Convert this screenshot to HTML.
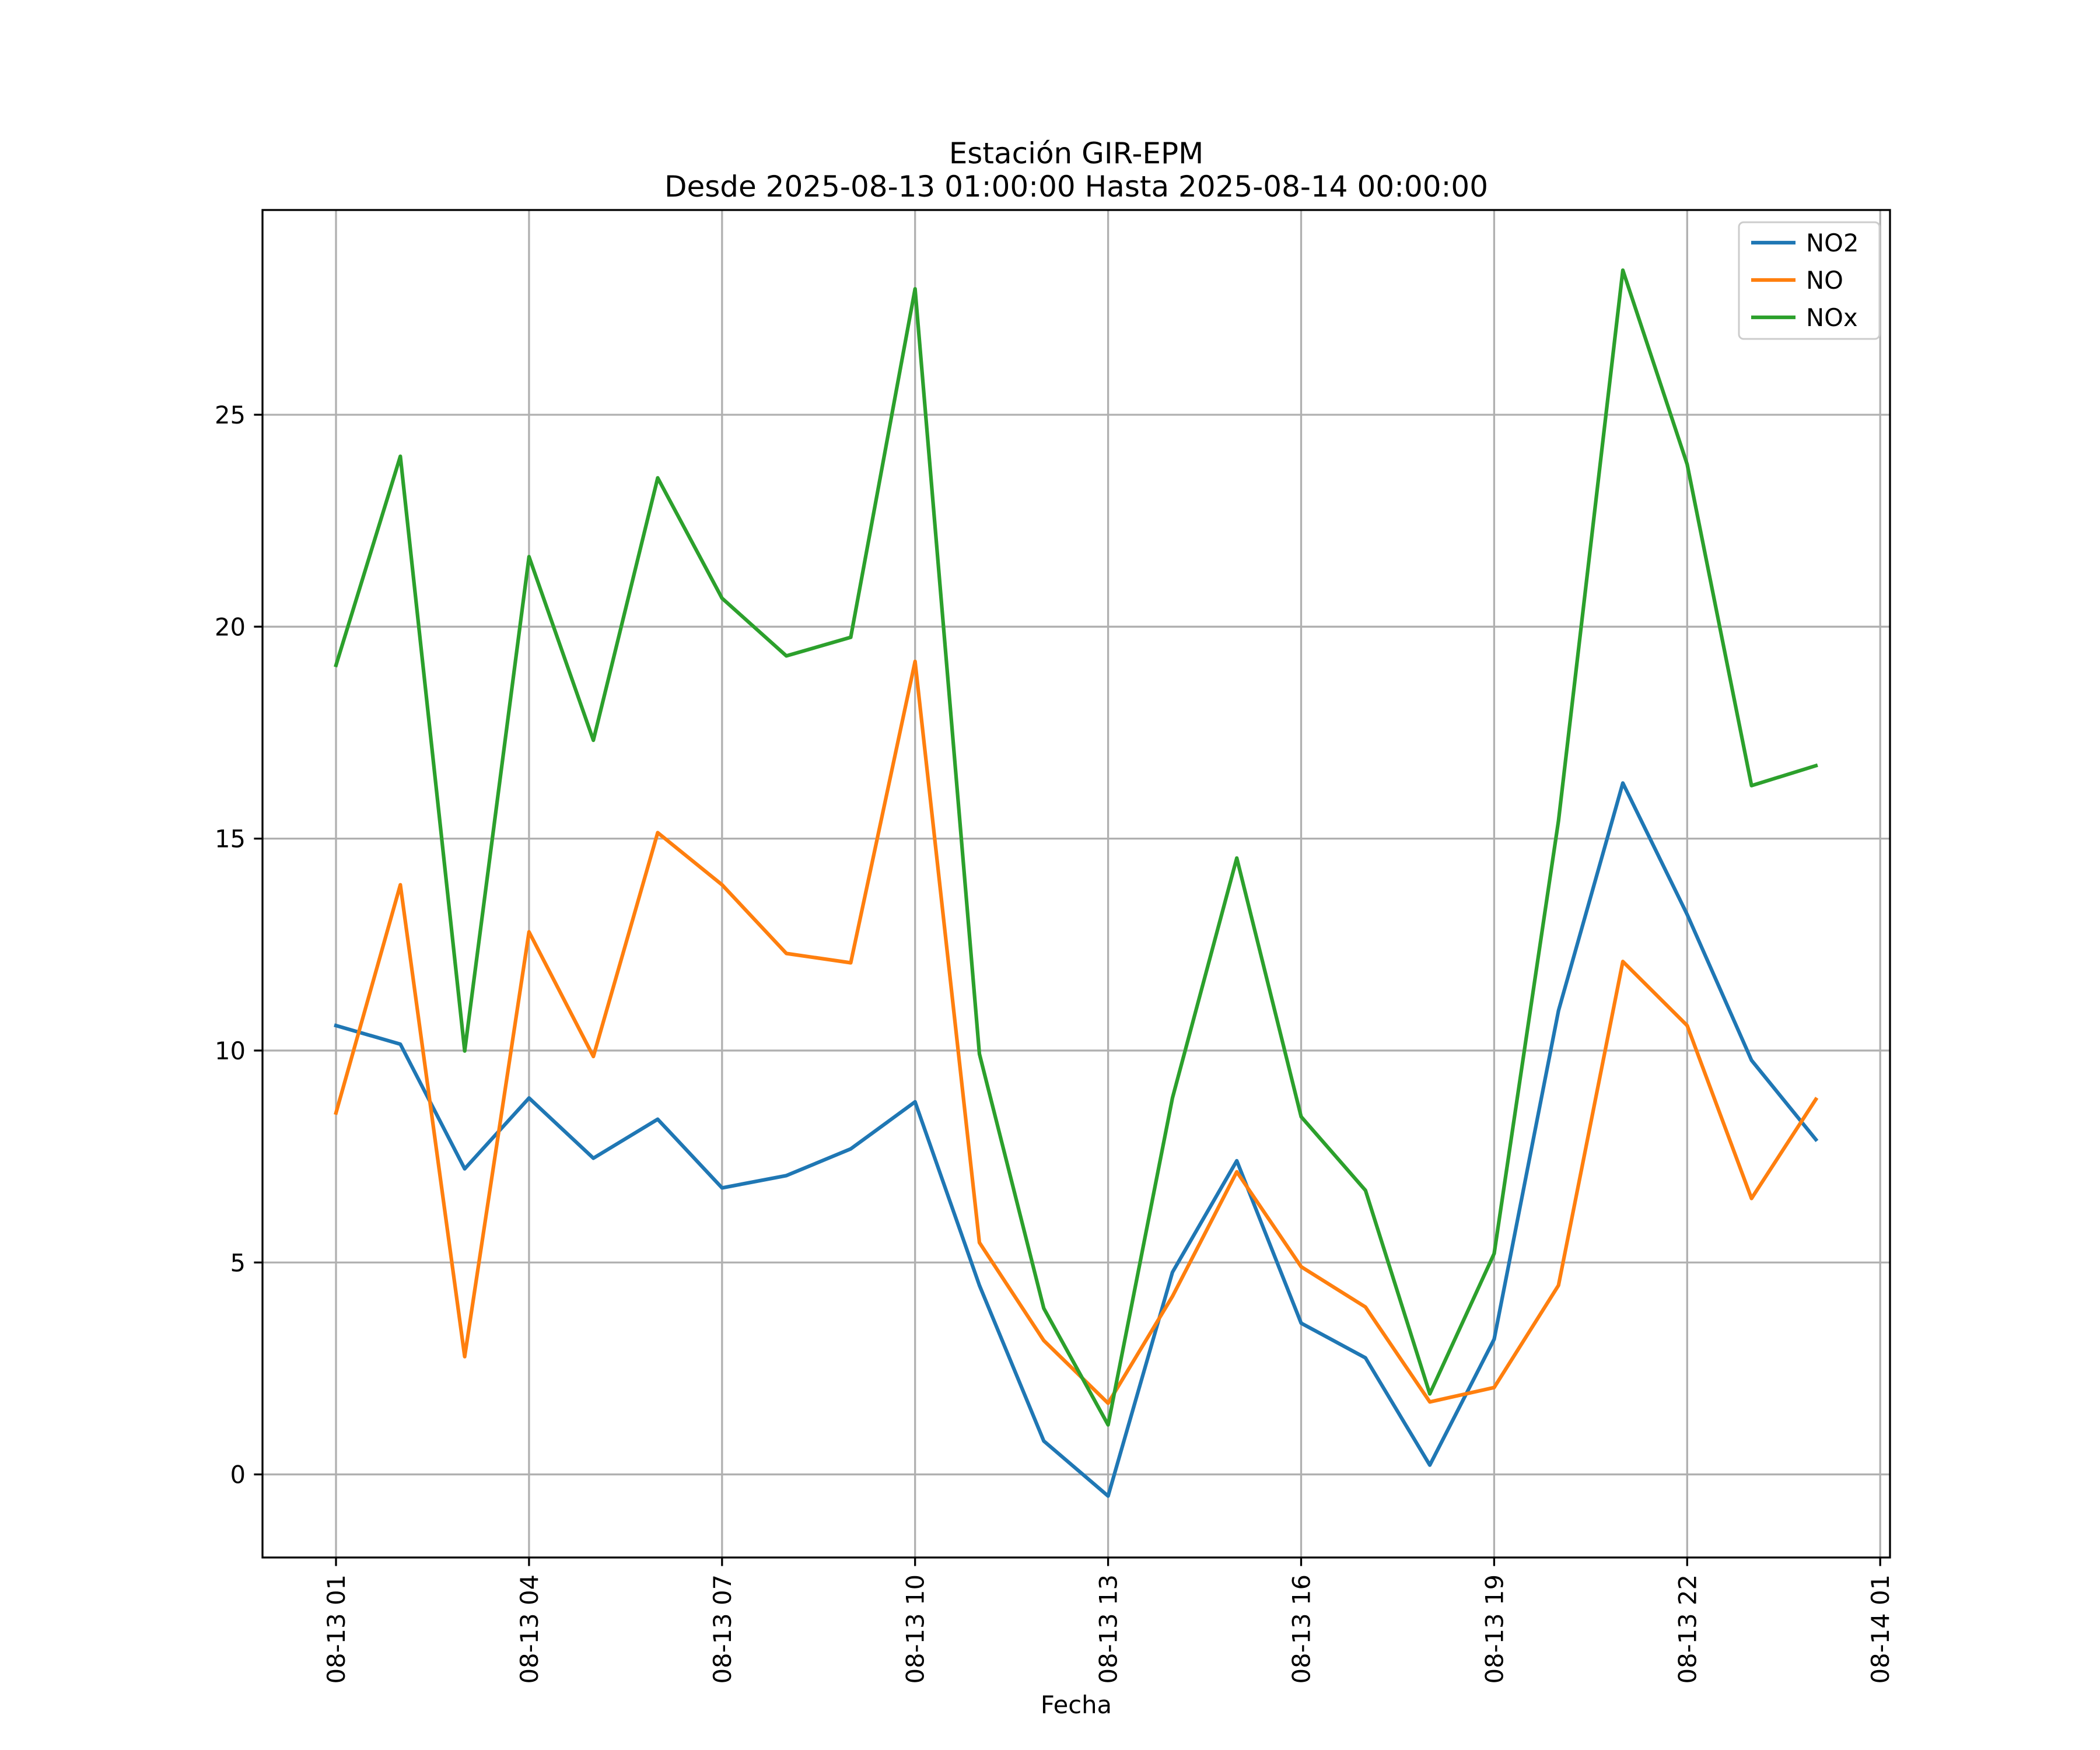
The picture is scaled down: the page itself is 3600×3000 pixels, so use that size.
<!DOCTYPE html>
<html><head><meta charset="utf-8"><style>
html,body{margin:0;padding:0;background:#fff}
svg{display:block;font-family:"DejaVu Sans","Liberation Sans",sans-serif}
</style></head><body>
<svg id="chart" width="3600" height="3000" viewBox="0 0 3600 3000">
<rect width="3600" height="3000" fill="#fff"/>
<text x="1845" y="280" font-size="50" text-anchor="middle">Estación GIR-EPM</text>
<text x="1845" y="337" font-size="50" text-anchor="middle">Desde 2025-08-13 01:00:00 Hasta 2025-08-14 00:00:00</text>
<g id="grid"></g>
<g id="series"></g>
<rect x="450" y="360" width="2790" height="2310" fill="none" stroke="#000" stroke-width="3.3"/>
<g id="axes"></g>
<text x="1845" y="2937" font-size="41.7" text-anchor="middle">Fecha</text>
<g>
<rect x="2981" y="381" width="241" height="200" rx="8" fill="#fff" fill-opacity="0.8" stroke="#ccc" stroke-width="3"/>
<g><line x1="3002" y1="416" x2="3078" y2="416" stroke="#1f77b4" stroke-width="6.25"/><text x="3096" y="431" font-size="41.7">NO2</text></g>
<g><line x1="3002" y1="480" x2="3078" y2="480" stroke="#ff7f0e" stroke-width="6.25"/><text x="3096" y="495" font-size="41.7">NO</text></g>
<g><line x1="3002" y1="544" x2="3078" y2="544" stroke="#2ca02c" stroke-width="6.25"/><text x="3096" y="559" font-size="41.7">NOx</text></g>
</g>
</svg>
<script>
const hours = [0,1,2,3,4,5,6,7,8,9,10,11,12,13,14,15,16,17,18,19,20,21,22,23];
const no2 = [10.59,10.15,7.21,8.88,7.46,8.38,6.76,7.05,7.68,8.79,4.46,0.79,-0.51,4.77,7.40,3.57,2.75,0.22,3.19,10.94,16.31,13.21,9.77,7.90];
const no = [8.53,13.91,2.78,12.80,9.86,15.14,13.91,12.29,12.07,19.18,5.47,3.16,1.68,4.20,7.14,4.90,3.95,1.71,2.05,4.46,12.10,10.59,6.51,8.85];
const nox = [19.09,24.02,9.99,21.65,17.32,23.51,20.67,19.31,19.75,27.97,9.92,3.92,1.17,8.88,14.54,8.44,6.70,1.90,5.21,15.42,28.41,23.83,16.25,16.72];
const yTicks = [0,5,10,15,20,25];
const xTickHours = [0,3,6,9,12,15,18,21,24];
const xTickLabels = ["08-13 01","08-13 04","08-13 07","08-13 10","08-13 13","08-13 16","08-13 19","08-13 22","08-14 01"];

const NS="http://www.w3.org/2000/svg";
const X0=450,X1=3240,Y0=360,Y1=2670;
const yMin=-1.96,yMax=29.83;
function xs(h){return 576+h*110.3;}
function ys(v){return Y1-(v-yMin)/(yMax-yMin)*(Y1-Y0);}
function mk(tag,attrs,parent){const e=document.createElementNS(NS,tag);for(const k in attrs)e.setAttribute(k,attrs[k]);parent.appendChild(e);return e;}
const grid=document.getElementById('grid'),axes=document.getElementById('axes'),series=document.getElementById('series');
yTicks.forEach(v=>{
  const y=ys(v);
  const g=mk('line',{x1:X0,x2:X1,y1:y,y2:y,stroke:'#b0b0b0','stroke-width':3.3},grid);
  
  
  const t=mk('line',{x1:X0-14.6,x2:X0,y1:y,y2:y,stroke:'#000','stroke-width':3.3},axes);
  
  
  const l=mk('text',{x:X0-29,y:y+15,'font-size':41.7,'text-anchor':'end'},axes);
  l.textContent=String(v);
  
  
});
xTickHours.forEach((h,i)=>{
  const x=xs(h);
  const g=mk('line',{x1:x,x2:x,y1:Y0,y2:Y1,stroke:'#b0b0b0','stroke-width':3.3},grid);
  
  
  const t=mk('line',{x1:x,x2:x,y1:Y1,y2:Y1+14.6,stroke:'#000','stroke-width':3.3},axes);
  
  
  const l=mk('text',{x:0,y:0,'font-size':41.7,'text-anchor':'end',transform:`translate(${x+15},${Y1+29}) rotate(-90)`},axes);
  l.textContent=xTickLabels[i];
  
  
});
[[no2,'#1f77b4','line-no2'],[no,'#ff7f0e','line-no'],[nox,'#2ca02c','line-nox']].forEach(([d,c,n])=>{
  const pts=d.map((v,i)=>xs(hours[i]).toFixed(1)+','+ys(v).toFixed(1)).join(' ');
  const p=mk('polyline',{points:pts,fill:'none',stroke:c,'stroke-width':6.25,'stroke-linejoin':'round','stroke-linecap':'square'},series);
  
  
});
</script>
</body></html>
